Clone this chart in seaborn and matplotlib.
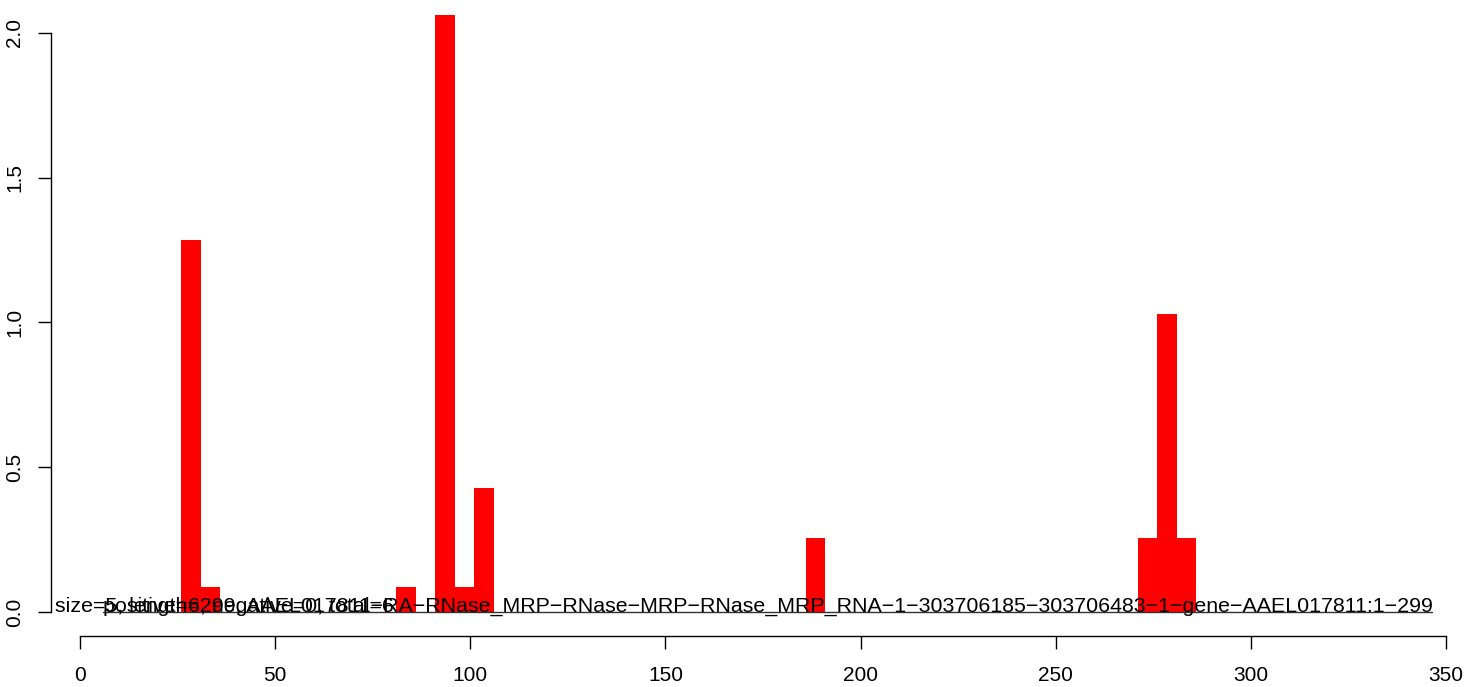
import matplotlib
matplotlib.use("Agg")
import matplotlib.pyplot as plt
import seaborn as sns
import pandas as pd

# bins of width 5 starting at 1 (only non-empty ones listed)
bin_start = [26, 31, 81, 91, 96, 101, 186, 271, 276, 281]
bar_height = [1.285, 0.086, 0.086, 2.062, 0.086, 0.428, 0.257, 0.257, 1.029, 0.257]

label_main = ("size=5, length=299, AAEL017811\u2212RA\u2212RNase_MRP\u2212RNase\u2212MRP\u2212"
              "RNase_MRP_RNA\u22121\u2212303706185\u2212303706483\u22121\u2212gene\u2212AAEL017811:1\u2212299")
label_counts = "positive=6, negative=0, total=6"
label_main_x = -6.4
label_counts_x = 6.0
baseline_span = [6.0, 346.4]

x_ticks = [0, 50, 100, 150, 200, 250, 300, 350]
y_ticks = [0.0, 0.5, 1.0, 1.5, 2.0]

sns.set_style("ticks")
plt.rcParams["font.family"] = ["Liberation Sans", "DejaVu Sans"]
plt.rcParams["text.color"] = "black"
plt.rcParams["xtick.color"] = "black"
plt.rcParams["ytick.color"] = "black"

df = pd.DataFrame({"pos": bin_start, "h": bar_height})

fig = plt.figure(figsize=(14.7, 6.87), dpi=100)
ax = fig.add_axes([51 / 1470, 51 / 687, 1409 / 1470, 626 / 687])

sns.histplot(data=df, x="pos", weights="h", binwidth=5, binrange=(1, 351),
             color="#ff0000", alpha=1, linewidth=0, ax=ax)

ax.plot(baseline_span, [0, 0], color="#333333", lw=1.0)
ax.text(label_main_x, 0, label_main, fontsize=15.4, ha="left", va="baseline")
ax.text(label_counts_x, 0, label_counts, fontsize=15.4, ha="left", va="baseline")

ax.set_xlim(-7.43, 353.6)
ax.set_ylim(-0.083, 2.079)
ax.set_xticks(x_ticks)
ax.set_xticklabels([str(t) for t in x_ticks])
ax.set_yticks(y_ticks)
ax.set_yticklabels([f"{t:.1f}" for t in y_ticks], rotation=90, va="center")
ax.set_xlabel("")
ax.set_ylabel("")
ax.tick_params(axis="both", direction="out", length=9.4, width=1.0,
               labelsize=15, color="black", labelcolor="black")
ax.tick_params(axis="x", pad=12)
ax.tick_params(axis="y", pad=10)

sns.despine(ax=ax, trim=True)
for s in ["left", "bottom"]:
    ax.spines[s].set_linewidth(1.0)
    ax.spines[s].set_color("black")

fig.savefig("out.png", dpi=100)
